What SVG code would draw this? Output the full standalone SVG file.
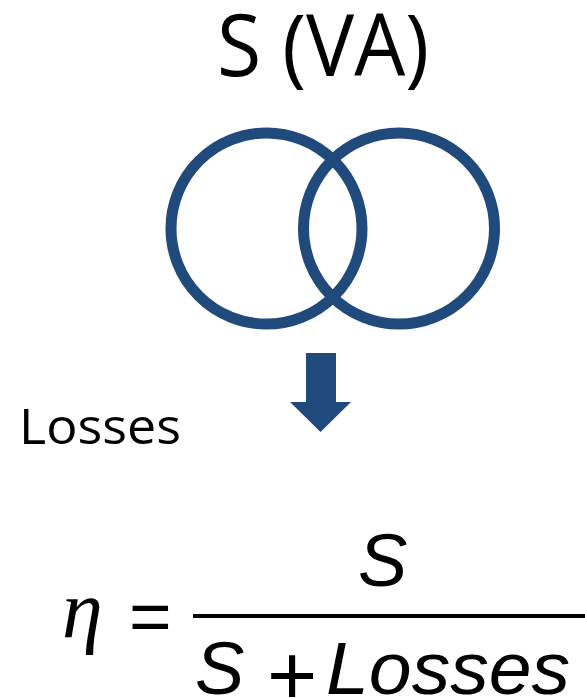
<svg xmlns="http://www.w3.org/2000/svg" width="585" height="698" viewBox="0 0 585 698">
  <style>
    .label { font-family: "Open Sans", "Noto Sans", sans-serif; fill: #000; }
    .math { font-family: "Liberation Sans", Arial, sans-serif; font-style: italic; fill: #000; }
    .mathup { font-family: "Liberation Sans", Arial, sans-serif; fill: #000; }
    .ring { fill: none; stroke: #214A7C; stroke-width: 11; }
  </style>
  <rect width="585" height="698" fill="#fff"/>
  <g id="title">
    <text class="label" x="217" y="76" font-size="86" textLength="212" lengthAdjust="spacingAndGlyphs">S (VA)</text>
  </g>
  <g id="transformer">
    <circle class="ring" cx="266.5" cy="228.5" r="95.5"/>
    <circle class="ring" cx="399" cy="228.5" r="95.5"/>
  </g>
  <g id="connectors">
    <polygon fill="#214A7C" points="306,353 336,353 336,402 351,402 320.5,432 290,402 306,402"/>
  </g>
  <g id="losses">
    <text class="label" x="19" y="444" font-size="50" textLength="162" lengthAdjust="spacingAndGlyphs">Losses</text>
  </g>
  <g id="formula">
    <text x="62" y="637" font-family="Liberation Serif, serif" font-style="italic" font-size="82">η</text>
    <text class="mathup" x="129" y="641" font-size="73">=</text>
    <rect x="193" y="614" width="392" height="4" fill="#000"/>
    <text class="math" x="358" y="586" font-size="74">S</text>
    <text class="math" x="195" y="694" font-size="74">S</text>
    <text class="mathup" x="267" y="705" font-size="86">+</text>
    <text class="math" x="326" y="694" font-size="74" textLength="244" lengthAdjust="spacingAndGlyphs">Losses</text>
  </g>
</svg>
